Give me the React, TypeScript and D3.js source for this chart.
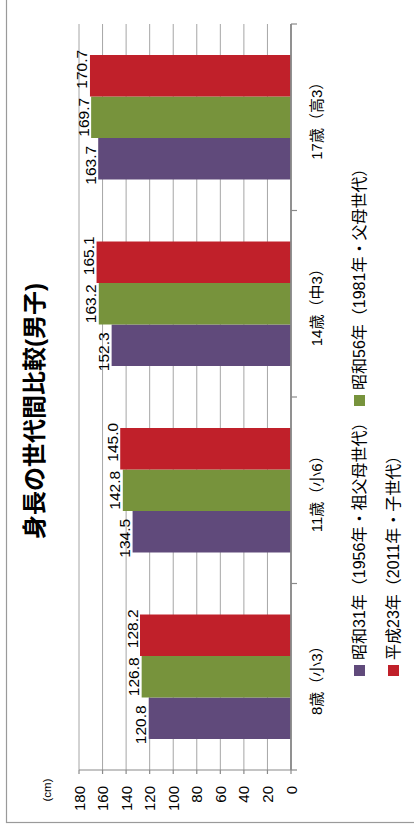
import React from "react";
import * as d3 from "d3";

const categories = ["8歳（小3）", "11歳（小6）", "14歳（中3）", "17歳（高3）"];
const seriesNames = [
  "昭和31年（1956年・祖父母世代）",
  "昭和56年（1981年・父母世代）",
  "平成23年（2011年・子世代）",
];
const showa31 = [120.8, 134.5, 152.3, 163.7];
const showa56 = [126.8, 142.8, 163.2, 169.7];
const heisei23 = [128.2, 145.0, 165.1, 170.7];
const valueTicks = [0, 20, 40, 60, 80, 100, 120, 140, 160, 180];
const titleText = "身長の世代間比較(男子)";
const unitText = "(cm)";

const seriesValues = [showa31, showa56, heisei23];
const colors = ["#604a7b", "#77933c", "#c0202a"];

const W = 832; // unrotated width
const FONT = "'Liberation Sans', 'Noto Sans CJK JP', sans-serif";

export default function App() {
  const x = d3
    .scaleBand<string>()
    .domain(categories)
    .range([62, 808])
    .paddingInner(0.3325)
    .paddingOuter(0.16625);
  const xs = d3
    .scaleBand<number>()
    .domain(seriesNames.map((_, i) => i))
    .range([0, x.bandwidth()]);
  const y = d3.scaleLinear().domain([0, 180]).range([291, 79]);

  const step = x.step();
  const gap = step - x.bandwidth();
  const boundaries = categories.map((c) => (x(c) as number) - gap / 2);
  boundaries.push(boundaries[boundaries.length - 1] + step);

  const legendItems = [
    { i: 0, x: 156, y: 354 },
    { i: 1, x: 426, y: 354 },
    { i: 2, x: 156, y: 388 },
  ];

  return (
    <svg
      width={414}
      height={832}
      style={{ position: "absolute", left: 0, top: 0, background: "#fff" }}
      fontFamily={FONT}
    >
      <g transform={`translate(0,${W}) rotate(-90)`}>
        {/* outer chart border */}
        <rect x={9.5} y={6.5} width={900} height={500} fill="#fff" stroke="#9a9a9a" strokeWidth={1.2} />

        {/* gridlines */}
        {valueTicks.map((t) => (
          <line
            key={"g" + t}
            x1={62}
            x2={808}
            y1={y(t)}
            y2={y(t)}
            stroke="#a6a6a6"
            strokeWidth={1}
          />
        ))}

        {/* bars */}
        {categories.map((c, ci) =>
          seriesValues.map((vals, si) => (
            <rect
              key={`b${ci}-${si}`}
              x={(x(c) as number) + (xs(si) as number)}
              y={y(vals[ci])}
              width={xs.bandwidth()}
              height={y(0) - y(vals[ci])}
              fill={colors[si]}
            />
          ))
        )}

        {/* value axis line and ticks */}
        <line x1={62} x2={62} y1={y(0)} y2={y(180)} stroke="#8a8a8a" strokeWidth={1.2} />
        {valueTicks.map((t) => (
          <line key={"vt" + t} x1={58} x2={62} y1={y(t)} y2={y(t)} stroke="#8a8a8a" strokeWidth={1.2} />
        ))}
        {valueTicks.map((t) => (
          <text
            key={"vl" + t}
            x={46}
            y={y(t)}
            textAnchor="end"
            dominantBaseline="central"
            fontSize={15}
            fill="#000"
          >
            {t}
          </text>
        ))}
        <text x={42} y={51} textAnchor="middle" fontSize={11.5} fill="#000">
          {unitText}
        </text>

        {/* category axis line and ticks */}
        <line x1={62} x2={808} y1={y(0)} y2={y(0)} stroke="#8a8a8a" strokeWidth={1.8} />
        {boundaries.map((b, i) => (
          <line key={"ct" + i} x1={b} x2={b} y1={y(0)} y2={y(0) + 6} stroke="#8a8a8a" strokeWidth={1.2} />
        ))}
        {categories.map((c) => (
          <text
            key={"cl" + c}
            x={(x(c) as number) + x.bandwidth() / 2}
            y={316}
            textAnchor="middle"
            dominantBaseline="central"
            fontSize={15}
            fill="#000"
          >
            {c}
          </text>
        ))}

        {/* data labels */}
        {categories.map((c, ci) =>
          seriesValues.map((vals, si) => (
            <text
              key={`dl${ci}-${si}`}
              x={(x(c) as number) + (xs(si) as number) + xs.bandwidth() / 2 + (si - 1) * 6.5}
              y={y(vals[ci]) - 2.5}
              textAnchor="middle"
              fontSize={15.5}
              fill="#000"
            >
              {vals[ci].toFixed(1)}
            </text>
          ))
        )}

        {/* title */}
        <text x={421} y={43} textAnchor="middle" fontSize={24} fontWeight="bold" fill="#000">
          {titleText}
        </text>

        {/* legend */}
        {legendItems.map((it) => (
          <g key={"lg" + it.i}>
            <rect x={it.x} y={it.y} width={11} height={11} fill={colors[it.i]} />
            <text
              x={it.x + 16}
              y={it.y + 5.5}
              dominantBaseline="central"
              fontSize={16}
              fill="#000"
            >
              {seriesNames[it.i]}
            </text>
          </g>
        ))}
      </g>
    </svg>
  );
}
